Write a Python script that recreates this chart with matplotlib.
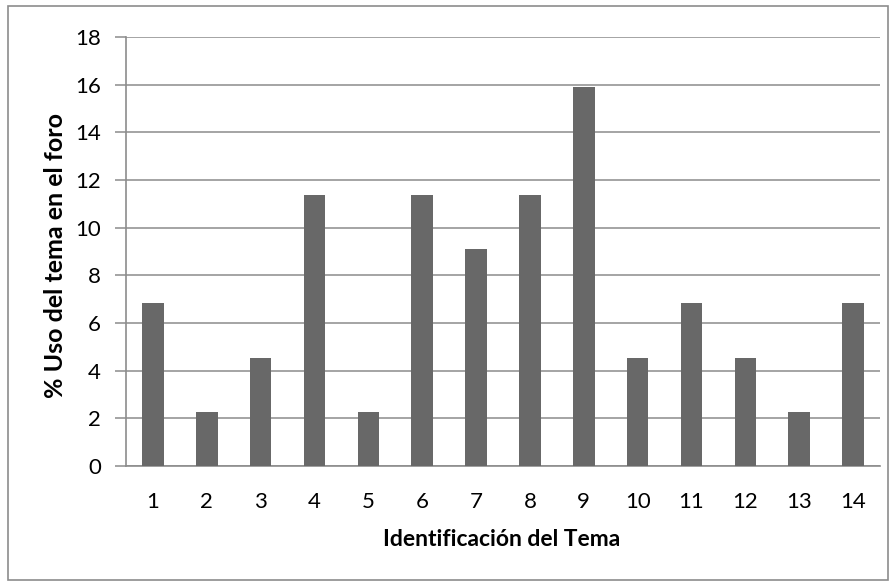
import matplotlib.pyplot as plt
from matplotlib.patches import Rectangle

# Porcentaje de uso de cada tema en el foro
temas = ['1', '2', '3', '4', '5', '6', '7', '8', '9', '10', '11', '12', '13', '14']
uso = [6.82, 2.27, 4.55, 11.36, 2.27, 11.36, 9.09, 11.36, 15.91, 4.55, 6.82, 4.55, 2.27, 6.82]

plt.rcParams['font.family'] = ['Lato', 'DejaVu Sans']

W, H = 894, 584
fig = plt.figure(figsize=(W / 100, H / 100), dpi=100)
ax = fig.add_axes([126 / W, 1 - 466 / H, (880 - 126) / W, (466 - 37) / H])

# marco exterior del grafico
fig.patches.append(Rectangle((8 / W, 4 / H), 880 / W, 574 / H,
                             transform=fig.transFigure, fill=False,
                             edgecolor='#8c8c8c', linewidth=1.2))

pos = range(len(temas))
ax.bar(pos, uso, width=0.4, color='#686868', zorder=3)

ax.set_xlim(-0.5, len(temas) - 0.5)
ax.set_ylim(0, 18)
ax.set_yticks(range(0, 19, 2))
ax.set_xticks(list(pos))
ax.set_xticklabels(temas)
ax.yaxis.grid(True, color='#8c8c8c', linewidth=1.1, zorder=0)

for s in ['top', 'right']:
    ax.spines[s].set_visible(False)
for s in ['left', 'bottom']:
    ax.spines[s].set_color('#8c8c8c')
    ax.spines[s].set_linewidth(1.2)

ax.tick_params(axis='y', length=8, width=1.1, color='#8c8c8c', labelsize=16, pad=10)
ax.tick_params(axis='x', length=0, labelsize=16, pad=19)

ax.set_xlabel('Identificación del Tema', fontsize=16.5, fontweight='bold')
ax.set_ylabel('% Uso del tema en el foro', fontsize=18, fontweight='bold')
ax.xaxis.set_label_coords((502 - 126) / (880 - 126), -(540 - 466) / (466 - 37))
ax.yaxis.set_label_coords(-(126 - 56) / (880 - 126), (466 - 256) / (466 - 37))
ax.xaxis.label.set_va('center')
ax.yaxis.label.set_va('center')

fig.savefig('out.png', dpi=100)
